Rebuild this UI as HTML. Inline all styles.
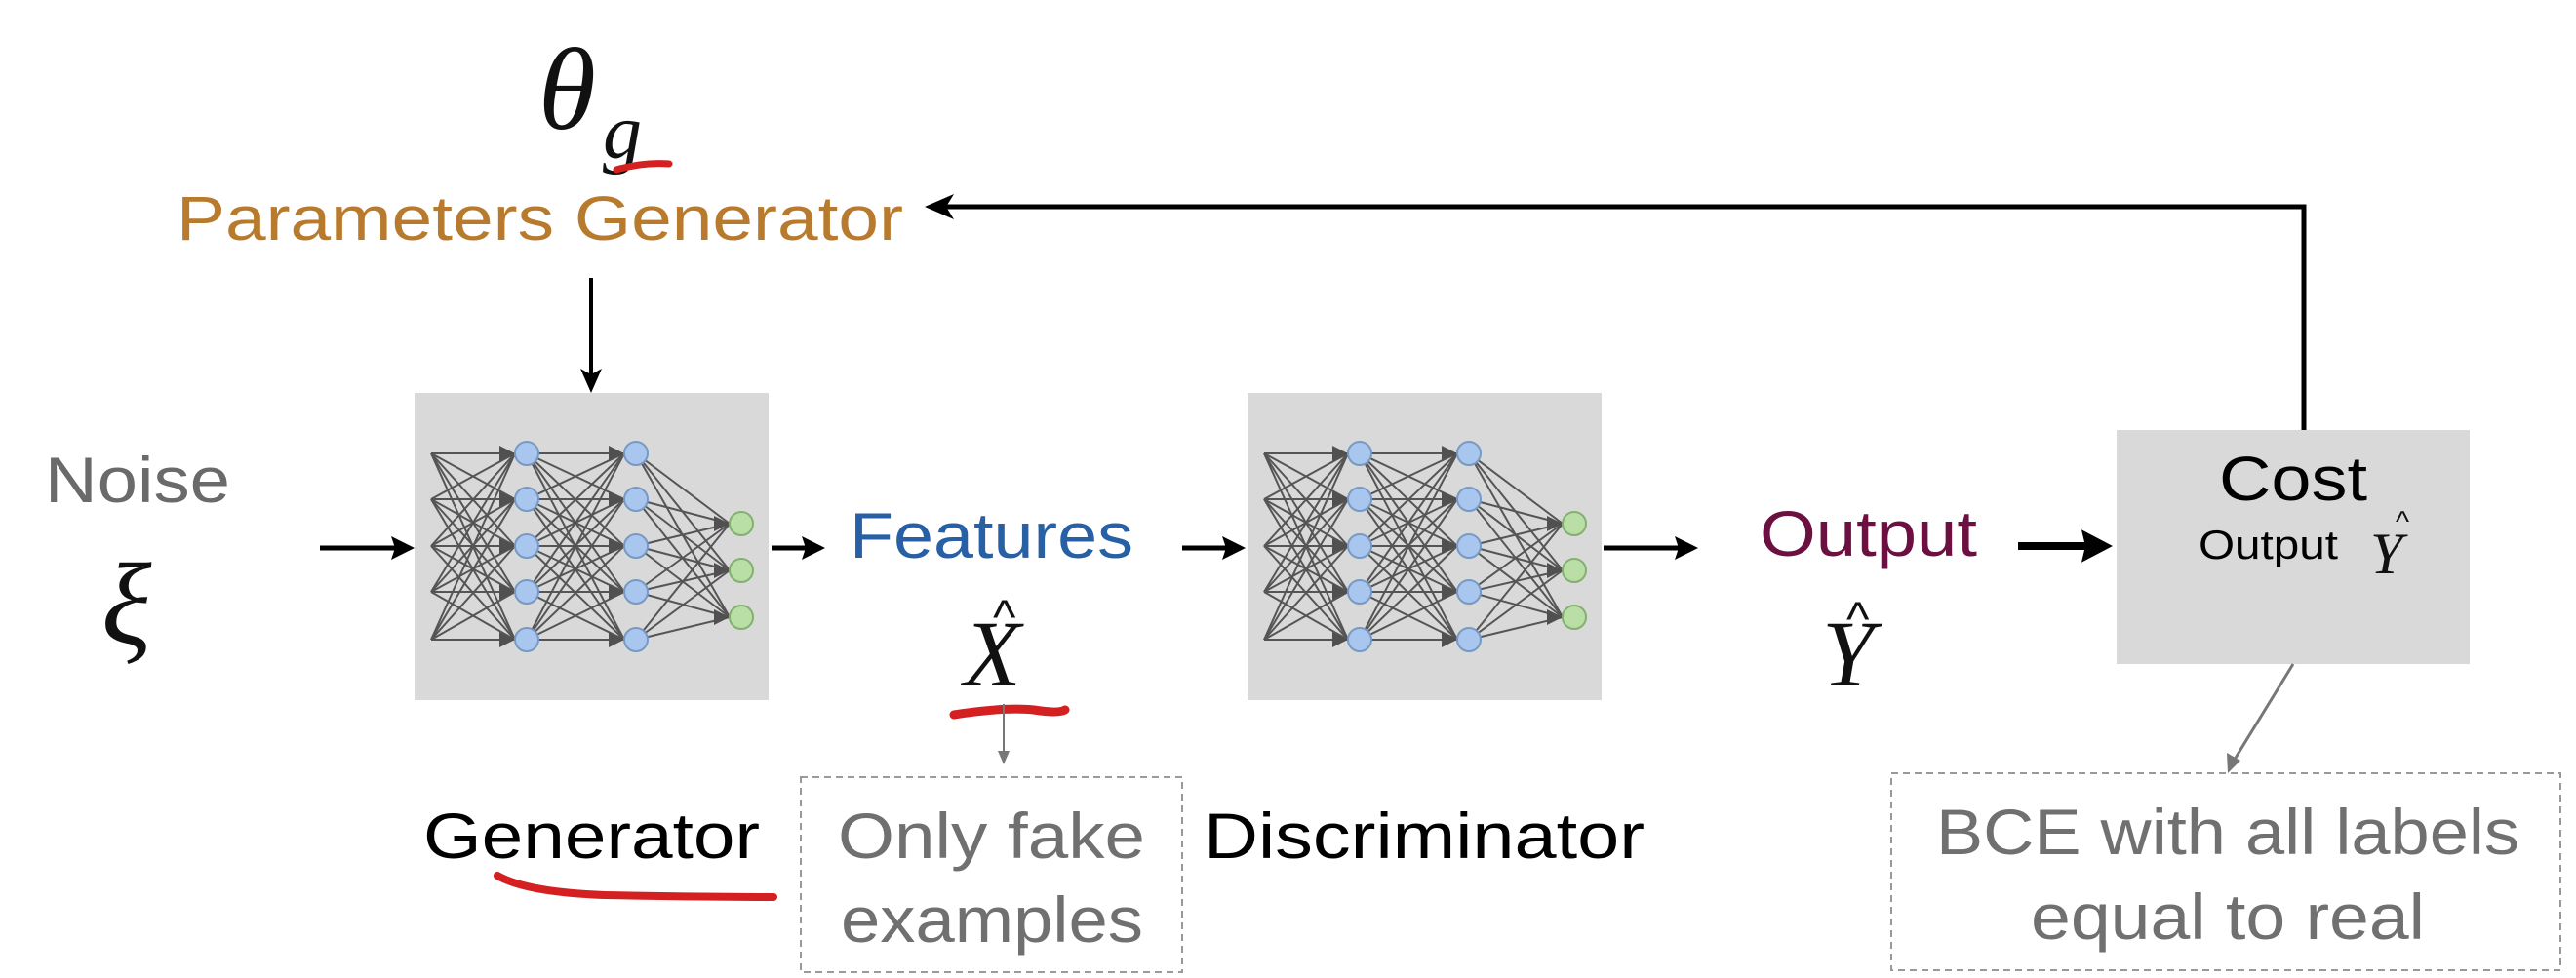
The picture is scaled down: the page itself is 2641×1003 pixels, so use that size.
<!DOCTYPE html>
<html><head><meta charset="utf-8"><style>
html,body{margin:0;padding:0;background:#fff;}
svg{display:block;}
text{font-family:"Liberation Sans",sans-serif;}
.m{font-family:"Liberation Serif",serif;font-style:italic;}
</style></head><body>
<svg id="s" width="2641" height="1003" viewBox="0 0 2641 1003" xmlns="http://www.w3.org/2000/svg">
<rect width="2641" height="1003" fill="#fff"/>

<text x="552" y="132" class="m" font-size="120" fill="#111">θ</text>
<text x="618" y="162" class="m" font-size="80" fill="#111">g</text>
<path d="M632,174 Q660,166 686,168" stroke="#d42020" stroke-width="7" fill="none" stroke-linecap="round"/>

<text x="181" y="246" font-size="64" fill="#b87a2c" textLength="745" lengthAdjust="spacingAndGlyphs">Parameters Generator</text>

<polyline points="2362,441 2362,212 960,212" stroke="#000" stroke-width="5" fill="none"/>
<path d="M948,212 L978,199 L970,212 L978,225 z" fill="#000"/>

<line x1="606" y1="285" x2="606" y2="385" stroke="#000" stroke-width="4"/>
<path d="M606,403 L595,378 L606,384 L617,378 z" fill="#000"/>

<text x="46" y="515" font-size="66" fill="#6a6a6a" textLength="190" lengthAdjust="spacingAndGlyphs">Noise</text>
<text x="104" y="660" class="m" font-size="120" fill="#111">ξ</text>

<g id="arrows"></g>

<rect x="425" y="403" width="363" height="315" fill="#d9d9d9"/>
<rect x="1279" y="403" width="363" height="315" fill="#d9d9d9"/>
<g id="nn1"></g><g id="nn2"></g>

<text x="871" y="572" font-size="66" fill="#2860a6" textLength="291" lengthAdjust="spacingAndGlyphs">Features</text>
<text x="988" y="703" class="m" font-size="96" fill="#111">X</text>
<text x="1018" y="650" font-size="50" fill="#111">^</text>
<path d="M978,733 Q1030,725 1060,728 Q1085,732 1092,728" stroke="#d42020" stroke-width="9" fill="none" stroke-linecap="round"/>
<line x1="1029" y1="722" x2="1029" y2="772" stroke="#777" stroke-width="2"/>
<path d="M1029,784 L1023,770 L1035,770 z" fill="#777"/>

<rect x="821" y="797" width="391" height="200" fill="none" stroke="#999" stroke-width="2" stroke-dasharray="7,5"/>
<text x="859" y="880" font-size="66" fill="#707070" textLength="315" lengthAdjust="spacingAndGlyphs">Only fake</text>
<text x="862" y="966" font-size="66" fill="#707070" textLength="310" lengthAdjust="spacingAndGlyphs">examples</text>

<text x="434" y="880" font-size="66" fill="#000" textLength="345" lengthAdjust="spacingAndGlyphs">Generator</text>
<path d="M510,898 Q540,915 620,918 Q720,920 793,920" stroke="#d42020" stroke-width="8" fill="none" stroke-linecap="round"/>
<text x="1234" y="880" font-size="66" fill="#000" textLength="452" lengthAdjust="spacingAndGlyphs">Discriminator</text>

<text x="1804" y="570" font-size="66" fill="#6b1040" textLength="223" lengthAdjust="spacingAndGlyphs">Output</text>
<text x="1868" y="703" class="m" font-size="96" fill="#111">Y</text>
<text x="1893" y="652" font-size="50" fill="#111">^</text>

<rect x="2170" y="441" width="362" height="240" fill="#d9d9d9"/>
<text x="2275" y="513" font-size="64" fill="#000" textLength="152" lengthAdjust="spacingAndGlyphs">Cost</text>
<text x="2254" y="573" font-size="42" fill="#000" textLength="143" lengthAdjust="spacingAndGlyphs">Output</text>
<text x="2430" y="588" class="m" font-size="60" fill="#111">Y</text>
<text x="2456" y="545" font-size="30" fill="#111">^</text>

<line x1="2351" y1="681" x2="2289" y2="782" stroke="#777" stroke-width="3"/>
<path d="M2284,793 L2283,772 L2297,780 z" fill="#777"/>
<rect x="1939" y="793" width="686" height="202" fill="none" stroke="#999" stroke-width="2" stroke-dasharray="7,5"/>
<text x="1985" y="876" font-size="66" fill="#707070" textLength="598" lengthAdjust="spacingAndGlyphs">BCE with all labels</text>
<text x="2082" y="963" font-size="66" fill="#707070" textLength="404" lengthAdjust="spacingAndGlyphs">equal to real</text>
</svg>
<script>
var NS="http://www.w3.org/2000/svg";
function el(p,t,a){var e=document.createElementNS(NS,t);for(var k in a)e.setAttribute(k,a[k]);p.appendChild(e);return e;}
var ar=document.getElementById("arrows");
function arrow(x1,x2,y,w,h){el(ar,"line",{x1:x1,y1:y,x2:x2-h,y2:y,stroke:"#000","stroke-width":w});
 el(ar,"path",{d:"M"+x2+","+y+" L"+(x2-h-4)+","+(y-h*0.6)+" L"+(x2-h)+","+y+" L"+(x2-h-4)+","+(y+h*0.6)+" z",fill:"#000"});}
arrow(328,425,562,5,20);arrow(791,846,562,5,20);arrow(1212,1277,562,5,20);arrow(1644,1741,562,5,20);arrow(2069,2166,560,8,28);
function nn(g,dx){
 var ys=[465,512,560,607,656],oy=[537,585,633];
 var X0=442+dx,X1=540+dx,X2=652+dx,X3=760+dx,r=12;
 function lay(xa,ya,xb,yb){ya.forEach(function(a){yb.forEach(function(b){el(g,"line",{x1:xa,y1:a,x2:xb-r,y2:b,stroke:"#555","stroke-width":2});});});
  yb.forEach(function(b){el(g,"path",{d:"M"+(xb-r)+","+b+" l-16,-8 l0,16 z",fill:"#505050"});});}
 lay(X0,ys,X1,ys);lay(X1,ys,X2,ys);lay(X2,ys,X3,oy);
 ys.forEach(function(y){el(g,"circle",{cx:X1,cy:y,r:r,fill:"#a9c7ee",stroke:"#7799c4","stroke-width":2});el(g,"circle",{cx:X2,cy:y,r:r,fill:"#a9c7ee",stroke:"#7799c4","stroke-width":2});});
 oy.forEach(function(y){el(g,"circle",{cx:X3,cy:y,r:r,fill:"#b9dea6",stroke:"#82b070","stroke-width":2});});
}
nn(document.getElementById("nn1"),0);nn(document.getElementById("nn2"),854);
</script>
</body></html>
